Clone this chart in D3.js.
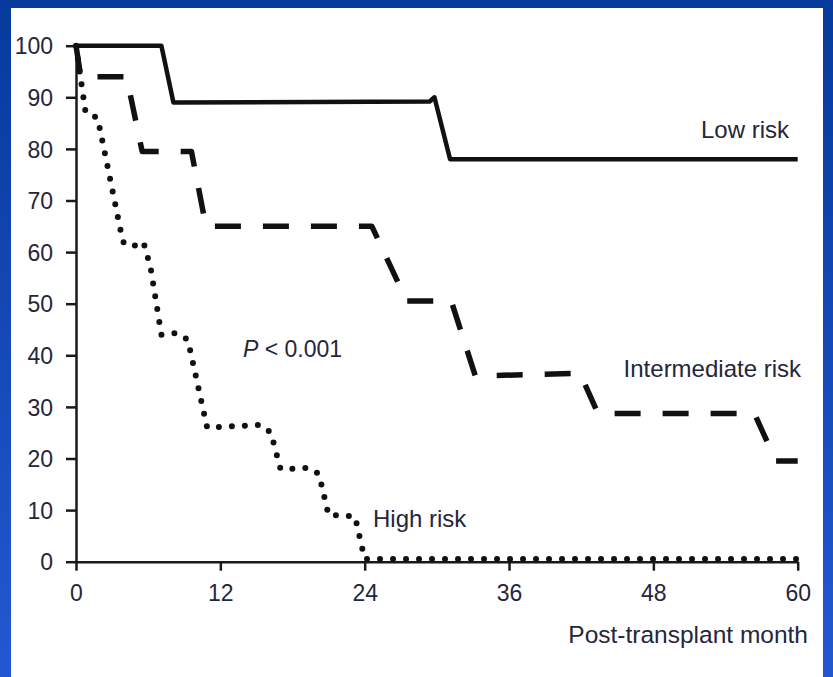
<!DOCTYPE html>
<html>
<head>
<meta charset="utf-8">
<script src="https://cdn.jsdelivr.net/npm/d3@7"></script>
<style>
  html, body { margin: 0; padding: 0; background: #fff; }
  svg { display: block; }
  text { font-family: "Liberation Sans", Arial, sans-serif; fill: #26263a; }
</style>
</head>
<body>
<svg id="chart" width="833" height="677"></svg>
<script>
// Kaplan–Meier style survival by risk group (months vs % surviving)
const lowMonths  = [0, 7.1, 8.1, 29.4, 29.8, 31.1, 60];
const lowSurv    = [100, 100, 89, 89.2, 90, 78, 78];

const interMonths = [0, 0.4, 4.2, 5.5, 9.6, 10.8, 24.6, 27.5, 31.2, 33.2, 41.9, 43.4, 56.4, 58.2, 60];
const interSurv   = [100, 94, 94, 79.5, 79.5, 65, 65, 50.5, 50.5, 36, 36.5, 28.7, 28.7, 19.5, 19.5];

const highMonths = [0, 0.8, 1.8, 3.9, 4.6, 5.6, 6.2, 7.1, 8.4, 9.3, 10.9, 15.4, 16.2, 17.0, 18.5, 19.3, 20.2, 21.0, 22.3, 23.2, 24.0, 60];
const highSurv   = [100, 87, 86, 62, 61, 62, 57, 44, 44.3, 43, 26, 26.5, 25, 18, 18, 18.2, 17, 9, 9, 8.7, 0.5, 0.5];

const xTicks = [0, 12, 24, 36, 48, 60];
const yTicks = [0, 10, 20, 30, 40, 50, 60, 70, 80, 90, 100];

const groupLabels = ["Low risk", "Intermediate risk", "High risk"];
const xTitle = "Post-transplant month";
const pText = " < 0.001";

const svg = d3.select("#chart");
const W = 833, H = 677;

// slide background
const defs = svg.append("defs");
const g1 = defs.append("linearGradient").attr("id", "bgBlue")
  .attr("x1", 0).attr("y1", 0).attr("x2", 0).attr("y2", 1);
g1.append("stop").attr("offset", "0%").attr("stop-color", "#063a9c");
g1.append("stop").attr("offset", "100%").attr("stop-color", "#2358d2");
svg.append("rect").attr("width", W).attr("height", H).attr("fill", "url(#bgBlue)");
svg.append("rect").attr("x", 11).attr("y", 8).attr("width", 812).attr("height", H - 8).attr("fill", "#ffffff");

const x = d3.scaleLinear().domain([0, 60]).range([76, 797.7]);
const y = d3.scaleLinear().domain([0, 100]).range([561.7, 45.7]);

// axes
const xAxis = svg.append("g").attr("transform", `translate(0,${y(0)})`)
  .call(d3.axisBottom(x).tickValues(xTicks).tickSize(9).tickSizeOuter(0).tickPadding(14).tickFormat(d3.format("d")));
const yAxis = svg.append("g").attr("transform", `translate(${x(0)},0)`)
  .call(d3.axisLeft(y).tickValues(yTicks).tickSize(10).tickSizeOuter(0).tickPadding(13).tickFormat(d3.format("d")));

[xAxis, yAxis].forEach(a => {
  a.select(".domain").attr("stroke", "#1a1a1a").attr("stroke-width", 2.5);
  a.selectAll(".tick line").attr("stroke", "#1a1a1a").attr("stroke-width", 2.5);
  a.selectAll(".tick text").attr("font-size", 23).attr("fill", "#26263a")
    .attr("font-family", "'Liberation Sans Narrow', 'Liberation Sans', Arial, sans-serif");
});
yAxis.selectAll(".tick text").attr("dy", "0.36em");
xAxis.selectAll(".tick text").attr("dy", "0.71em");

// curves
const line = d3.line().x(d => x(d[0])).y(d => y(d[1])).curve(d3.curveLinear);
const zip = (a, b) => a.map((m, i) => [m, b[i]]);

svg.append("path").datum(zip(lowMonths, lowSurv)).attr("d", line)
  .attr("fill", "none").attr("stroke", "#111").attr("stroke-width", 4.5)
  .attr("stroke-linejoin", "round");

svg.append("path").datum(zip(interMonths, interSurv)).attr("d", line)
  .attr("fill", "none").attr("stroke", "#111").attr("stroke-width", 5.5)
  .attr("stroke-dasharray", "26,22").attr("stroke-linejoin", "round");

svg.append("path").datum(zip(highMonths, highSurv)).attr("d", line)
  .attr("fill", "none").attr("stroke", "#111").attr("stroke-width", 6)
  .attr("stroke-linecap", "round").attr("stroke-dasharray", "0,13");

// group labels
svg.append("text").attr("x", 789).attr("y", 138).attr("text-anchor", "end")
  .attr("font-size", 24).text(groupLabels[0]);
svg.append("text").attr("x", 801).attr("y", 377).attr("text-anchor", "end")
  .attr("font-size", 24).text(groupLabels[1]);
svg.append("text").attr("x", 373).attr("y", 527)
  .attr("font-size", 24).text(groupLabels[2]);

// p-value
const pt = svg.append("text").attr("x", 243).attr("y", 357).attr("font-size", 23);
pt.append("tspan").attr("font-style", "italic").text("P");
pt.append("tspan").text(pText);

// x-axis title
svg.append("text").attr("x", 808).attr("y", 643).attr("text-anchor", "end")
  .attr("font-size", 24.5).text(xTitle);
</script>
</body>
</html>
